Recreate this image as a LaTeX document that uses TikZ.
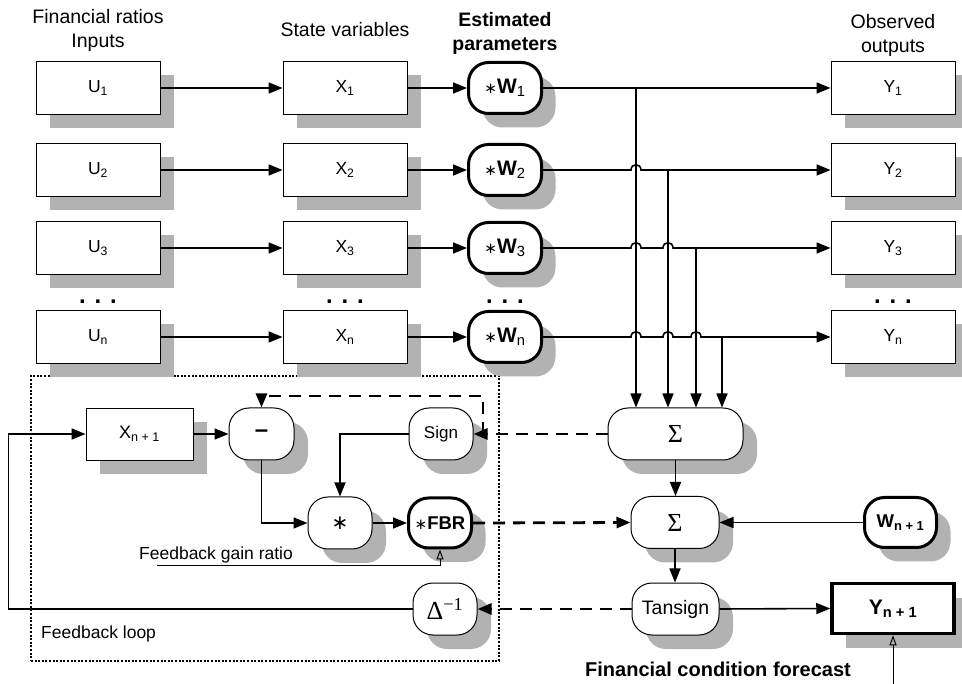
\documentclass[tikz,border=0pt]{standalone}
\usepackage{fontspec}
\setmainfont{Liberation Sans}
\newfontfamily\serif{Liberation Serif}
\newfontfamily\djv{DejaVu Sans}
\usetikzlibrary{arrows.meta,shadows}
\definecolor{shadowgray}{RGB}{178,178,178}
\newcommand{\bodyf}{\fontsize{17.5}{21}\selectfont}
\newcommand{\headf}{\fontsize{19.5}{24}\selectfont}
\newcommand{\fs}[1]{\fontsize{#1}{#1}\selectfont}
\newcommand{\smast}{{\djv\fs{15}∗}}
\newcommand{\hump}[2]{-- ({#1-5},#2) .. controls ({#1-5},{#2-7}) and ({#1+5},{#2-7}) .. ({#1+5},#2)}
\tikzset{
  shad/.style={general shadow={fill=shadowgray, shadow xshift=14pt, shadow yshift=-14pt}},
  box/.style={shad, draw, fill=white, line width=0.9pt, minimum width=124pt, minimum height=53pt, inner sep=0pt, font=\bodyf},
  pill/.style={shad, draw, fill=white, rounded corners=20pt, line width=1pt, minimum height=52pt, inner sep=0pt, font=\bodyf},
  thickpill/.style={pill, line width=3pt, minimum height=50pt},
  wpill/.style={thickpill, minimum width=73pt, minimum height=51pt, font=\fs{21}},
  conn/.style={line width=1.6pt, -{Triangle[length=14pt,width=11pt]}},
  dconn/.style={conn, line width=2.8pt, dash pattern=on 12pt off 8pt},
  openarr/.style={line width=1pt, -{Triangle[open,length=10pt,width=7pt]}},
  head/.style={align=center, font=\headf, inner sep=0pt},
  dots/.style={font=\fs{24}\bfseries, inner sep=0pt},
  loopbox/.style={draw, line width=2pt, dash pattern=on 2pt off 1.6pt, minimum width=468pt, minimum height=285pt, inner sep=0pt},
}
\begin{document}
\begin{tikzpicture}[x=1pt,y=-1pt]
\useasboundingbox (0,0) rectangle (962,684);

% headers
\node[head] (h1) at (98,30) {Financial ratios\\Inputs};
\node[head] (h2) at (345,30) {State variables};
\node[head, font=\headf\bfseries] (h3) at (505,33) {Estimated\\parameters};
\node[head] (h4) at (893,35) {Observed\\outputs};

% feedback loop frame
\node[loopbox] (fl) at (265,518.5) {};

% rows
\node[box] (u1) at (98,88) {U\textsubscript{1}};
\node[box] (u2) at (98,170) {U\textsubscript{2}};
\node[box] (u3) at (98,248) {U\textsubscript{3}};
\node[box] (un) at (98,337) {U\textsubscript{n}};
\node[box] (x1) at (345,88) {X\textsubscript{1}};
\node[box] (x2) at (345,170) {X\textsubscript{2}};
\node[box] (x3) at (345,248) {X\textsubscript{3}};
\node[box] (xn) at (345,337) {X\textsubscript{n}};
\node[wpill] (w1) at (505,88) {\smast\textbf{W}\textsubscript{1}};
\node[wpill] (w2) at (505,170) {\smast\textbf{W}\textsubscript{2}};
\node[wpill] (w3) at (505,248) {\smast\textbf{W}\textsubscript{3}};
\node[wpill] (wn) at (505,337) {\smast\textbf{W}\textsubscript{n}};
\node[box] (y1) at (893,88) {Y\textsubscript{1}};
\node[box] (y2) at (893,170) {Y\textsubscript{2}};
\node[box] (y3) at (893,248) {Y\textsubscript{3}};
\node[box] (yn) at (893,337) {Y\textsubscript{n}};

\node[dots] (d1) at (98,302) {. . .};
\node[dots] (d2) at (345,302) {. . .};
\node[dots] (d3) at (505,302) {. . .};
\node[dots] (d4) at (893,302) {. . .};

% feedback nodes
\node[box, minimum width=107pt, minimum height=52pt, font=\fs{18}] (xn1) at (139.5,434) {X\textsubscript{n + 1}};
\node[pill, minimum width=65pt, font=\fs{24}\bfseries] (minus) at (261.5,434) {--};
\node[pill, minimum width=64pt, font=\fs{17}] (sign) at (441,434) {Sign};
\node[pill, minimum width=64pt, font=\djv\fs{20}] (mul) at (340,523) {∗};
\node[thickpill, minimum width=63pt, font=\fs{18.5}] (fbr) at (440,523) {\smast\textbf{FBR}};
\node[pill, minimum width=64pt, font=\serif\fs{26}] (dinv) at (445,609) {Δ\textsuperscript{−1}};
\node[pill, minimum width=135pt, font=\serif\fs{26}] (s1) at (675.5,434) {Σ};
\node[pill, minimum width=88pt, font=\serif\fs{26}] (s2) at (675,522.5) {Σ};
\node[pill, minimum width=87pt, font=\fs{19.5}] (tan) at (675.5,609) {Tansign};
\node[thickpill, minimum width=72pt, font=\fs{18.5}] (wn1) at (900.5,522.5) {\textbf{W\textsubscript{n + 1}}};
\node[box, line width=3.5pt, minimum width=122pt, minimum height=50pt, font=\fs{21}] (yn1) at (893,608.5) {\textbf{Y\textsubscript{n + 1}}};

% labels
\node[anchor=west, font=\bodyf, inner sep=0pt] (fbl) at (41,634) {Feedback loop};
\node[font=\bodyf, inner sep=0pt] (fgr) at (216,555) {Feedback gain ratio};
\node[font=\fs{20}\bfseries, inner sep=0pt] (fcf) at (718,669) {Financial condition forecast};

% row connectors
\foreach \r in {1,2,3,n}{
  \draw[conn] (u\r) -- (x\r);
  \draw[conn] (x\r) -- (w\r);
}
\draw[conn] (w1) -- (y1);
\draw[conn] (w2.east) \hump{636}{170} -- (y2.west);
\draw[conn] (w3.east) \hump{636}{248} \hump{668}{248} -- (y3.west);
\draw[conn] (wn.east) \hump{636}{337} \hump{668}{337} \hump{696}{337} -- (yn.west);

\coordinate (j1) at (636,88);
\coordinate (j2) at (668,170);
\coordinate (j3) at (696,248);
\coordinate (j4) at (722,337);
\foreach \j in {j1,j2,j3,j4}{
  \draw[conn] (\j) -- (\j |- s1.north);
}

% feedback connectors
\draw[conn] (dinv.west) -- ++(-404,0) |- (xn1.west);
\draw[conn] (xn1) -- (minus);
\draw[conn] (minus.south) |- (mul.west);
\draw[conn] (sign.west) -| (mul.north);
\draw[conn] (mul) -- (fbr);
\draw[dconn] (s1.west) -- (sign.east);
\coordinate (br) at (483,434);
\draw[dconn] (br) -- ++(0,-38) -| (minus.north);
\draw[dconn] (fbr.east) -- (s2.west);
\draw[conn] (wn1.west) -- (s2.east);
\draw[conn] (s1.south) -- (s1.south |- s2.north);
\draw[conn] (s2.south) -- (s2.south |- tan.north);
\draw[dconn] (tan.west) -- (dinv.east);
\draw[conn] (tan.east) -- (yn1.west);
\coordinate (fgrs) at (157,566);
\draw[openarr] (fgrs) -- (fbr.south |- fgrs) -- (fbr.south);
\coordinate (bot) at (893,684);
\draw[openarr] (bot) -- (yn1.south);
\end{tikzpicture}
\end{document}
